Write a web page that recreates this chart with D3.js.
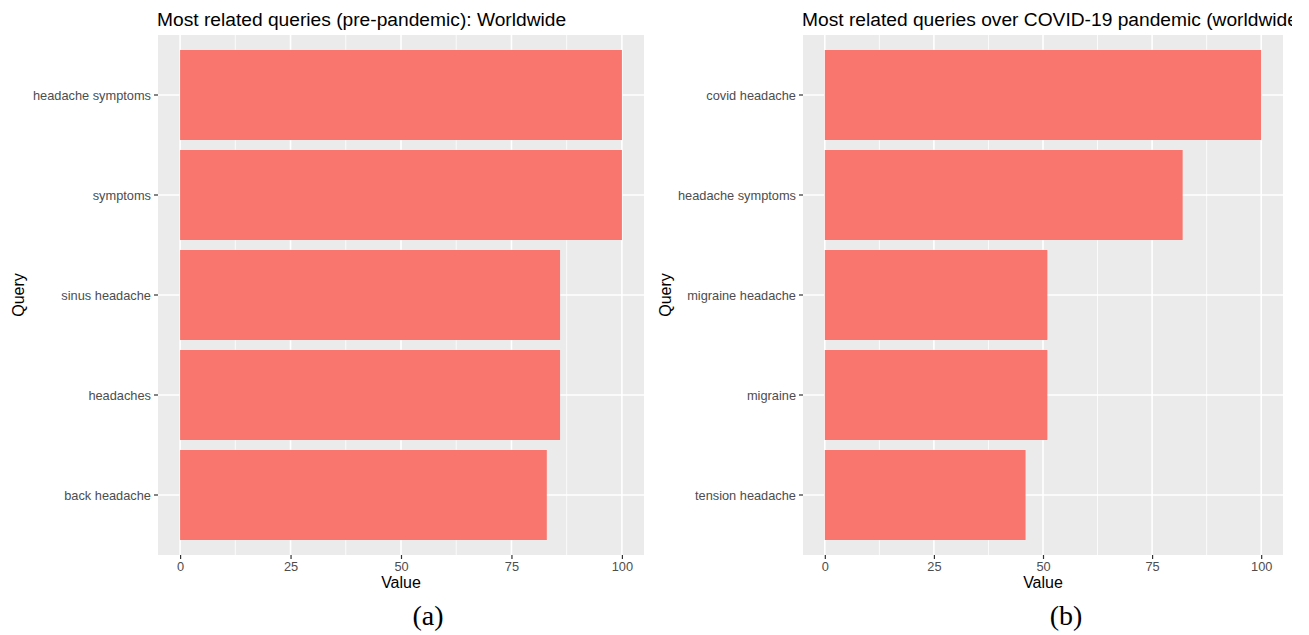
<!DOCTYPE html>
<html>
<head>
<meta charset="utf-8">
<script src="https://cdn.jsdelivr.net/npm/d3@7"></script>
<style>
  html, body { margin: 0; padding: 0; background: #ffffff; }
  svg { display: block; }
</style>
</head>
<body>
<svg id="chart" width="1309" height="635"></svg>
<script>
// ---- data ----
const leftTitle = "Most related queries (pre-pandemic): Worldwide";
const leftCategories = ["headache symptoms", "symptoms", "sinus headache", "headaches", "back headache"];
const leftValues = [100, 100, 86, 86, 83];

const rightTitle = "Most related queries over COVID-19 pandemic (worldwide)";
const rightCategories = ["covid headache", "headache symptoms", "migraine headache", "migraine", "tension headache"];
const rightValues = [100, 82, 51, 51, 46];

const xTicks = [0, 25, 50, 75, 100];
const xMinorTicks = [12.5, 37.5, 62.5, 87.5];
const xTitle = "Value";
const yTitle = "Query";
const panelLabels = ["(a)", "(b)"];

// ---- drawing ----
const svg = d3.select("#chart");
const sans = "'Liberation Sans', Arial, Helvetica, sans-serif";
const serif = "'Liberation Serif', 'Times New Roman', serif";

svg.append("defs").append("clipPath").attr("id", "pageClip")
  .append("rect").attr("x", 0).attr("y", 0).attr("width", 1292).attr("height", 635);

function drawPanel(opts) {
  const { left, right, top, bottom, cats, vals, title, label, labelX, yTitleX } = opts;
  const g = svg.append("g").attr("clip-path", "url(#pageClip)");

  const x = d3.scaleLinear().domain([-5, 105]).range([left, right]);
  const y = d3.scaleBand().domain(cats).range([top, bottom])
    .paddingInner(0.1).paddingOuter(0.15);

  // panel background
  g.append("rect").attr("x", left).attr("y", top)
    .attr("width", right - left).attr("height", bottom - top)
    .attr("fill", "#EBEBEB");

  // minor grid
  g.selectAll(".minor").data(xMinorTicks).enter().append("line")
    .attr("x1", d => x(d)).attr("x2", d => x(d))
    .attr("y1", top).attr("y2", bottom)
    .attr("stroke", "#ffffff").attr("stroke-width", 0.8);

  // major grid vertical
  g.selectAll(".majorx").data(xTicks).enter().append("line")
    .attr("x1", d => x(d)).attr("x2", d => x(d))
    .attr("y1", top).attr("y2", bottom)
    .attr("stroke", "#ffffff").attr("stroke-width", 1.6);

  // major grid horizontal
  g.selectAll(".majory").data(cats).enter().append("line")
    .attr("x1", left).attr("x2", right)
    .attr("y1", d => y(d) + y.bandwidth() / 2).attr("y2", d => y(d) + y.bandwidth() / 2)
    .attr("stroke", "#ffffff").attr("stroke-width", 1.6);

  // bars
  g.selectAll(".bar").data(cats.map((c, i) => ({ c, v: vals[i] }))).enter().append("rect")
    .attr("x", x(0)).attr("y", d => y(d.c))
    .attr("width", d => x(d.v) - x(0)).attr("height", y.bandwidth())
    .attr("fill", "#F8766D");

  // y axis
  const yAxis = d3.axisLeft(y).tickSize(4).tickPadding(3);
  const ya = g.append("g").attr("transform", `translate(${left},0)`).call(yAxis);
  ya.select(".domain").remove();
  ya.selectAll(".tick line").attr("stroke", "#333333").attr("stroke-width", 1.2);
  ya.selectAll(".tick text").attr("fill", "#4D4D4D").attr("dy", "0.42em")
    .style("font-family", sans).style("font-size", "12.8px");

  // x axis
  const xAxis = d3.axisBottom(x).tickValues(xTicks).tickSize(4).tickPadding(3).tickFormat(d3.format("d"));
  const xa = g.append("g").attr("transform", `translate(0,${bottom})`).call(xAxis);
  xa.select(".domain").remove();
  xa.selectAll(".tick line").attr("stroke", "#333333").attr("stroke-width", 1.2);
  xa.selectAll(".tick text").attr("fill", "#4D4D4D")
    .style("font-family", sans).style("font-size", "12.8px");

  // title
  g.append("text").attr("x", left - 1).attr("y", 26)
    .attr("fill", "#000000")
    .style("font-family", sans).style("font-size", "19.2px")
    .text(title);

  // x axis title
  g.append("text").attr("x", (left + right) / 2).attr("y", 588)
    .attr("text-anchor", "middle").attr("fill", "#000000")
    .style("font-family", sans).style("font-size", "16px")
    .text(xTitle);

  // y axis title
  g.append("text")
    .attr("transform", `translate(${yTitleX},${(top + bottom) / 2}) rotate(-90)`)
    .attr("text-anchor", "middle").attr("fill", "#000000")
    .style("font-family", sans).style("font-size", "16px")
    .text(yTitle);

  // panel label
  g.append("text").attr("x", labelX).attr("y", 625)
    .attr("text-anchor", "middle").attr("fill", "#000000")
    .style("font-family", serif).style("font-size", "28px")
    .text(label);
}

drawPanel({ left: 158, right: 644, top: 35, bottom: 555,
  cats: leftCategories, vals: leftValues, title: leftTitle,
  label: panelLabels[0], labelX: 428, yTitleX: 24 });

drawPanel({ left: 803, right: 1283, top: 35, bottom: 555,
  cats: rightCategories, vals: rightValues, title: rightTitle,
  label: panelLabels[1], labelX: 1066, yTitleX: 671 });
</script>
</body>
</html>
